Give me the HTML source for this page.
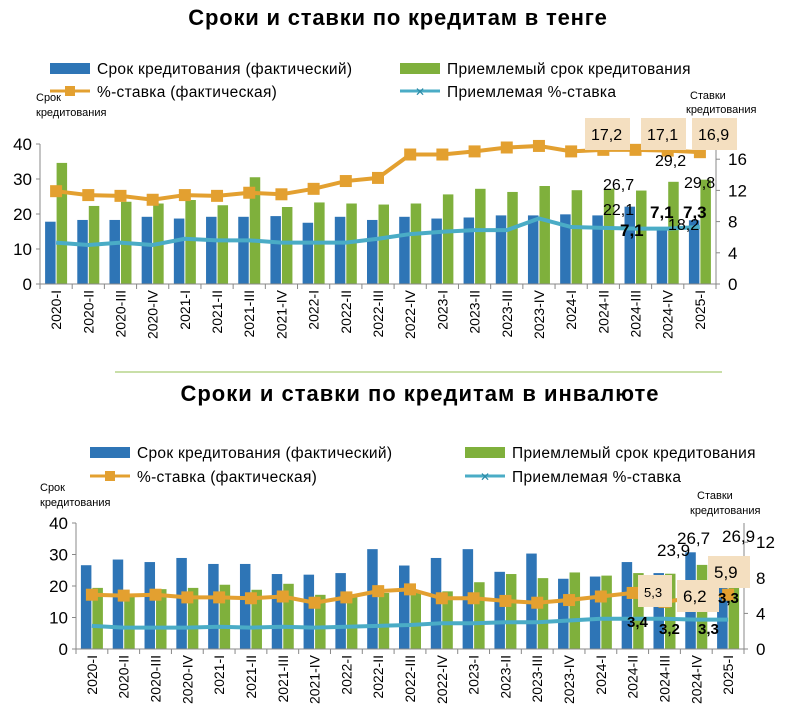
<!DOCTYPE html>
<html><head><meta charset="utf-8"><style>
body{margin:0;background:#fff;width:800px;height:720px;overflow:hidden}
svg{display:block;font-family:"Liberation Sans","DejaVu Sans",sans-serif}
</style></head><body>
<svg id="s" width="800" height="720" xmlns="http://www.w3.org/2000/svg">
<text x="398" y="25" text-anchor="middle" font-size="22" font-weight="bold" letter-spacing="0.8">Сроки и ставки по кредитам в тенге</text>
<text x="420" y="401" text-anchor="middle" font-size="22" font-weight="bold" letter-spacing="1">Сроки и ставки по кредитам в инвалюте</text>
<line x1="115" y1="372" x2="722" y2="372" stroke="#c9dfa8" stroke-width="2"/>
<!-- top legend -->
<rect x="50" y="63" width="40" height="11" fill="#2e75b6"/><text x="97" y="74" font-size="15.5" letter-spacing="0.3">Срок кредитования (фактический)</text>
<rect x="400" y="63" width="40" height="11" fill="#7fb03c"/><text x="447" y="74" font-size="15.5" letter-spacing="0.3">Приемлемый срок кредитования</text>
<line x1="50" y1="91" x2="90" y2="91" stroke="#e3a030" stroke-width="3"/><rect x="65" y="86" width="10" height="10" fill="#e3a030"/><text x="97" y="97" font-size="15.5" letter-spacing="0.3">%-ставка (фактическая)</text>
<line x1="400" y1="91" x2="440" y2="91" stroke="#4aacc6" stroke-width="3"/><text x="420" y="96" font-size="12" text-anchor="middle" fill="#2a8aa6">✕</text><text x="447" y="97" font-size="15.5" letter-spacing="0.3">Приемлемая %-ставка</text>
<text x="36" y="101" font-size="11">Срок</text><text x="36" y="116" font-size="11">кредитования</text>
<text x="690" y="99" font-size="11">Ставки</text><text x="686" y="113" font-size="11">кредитования</text>
<!-- bottom legend -->
<rect x="90" y="447" width="40" height="11" fill="#2e75b6"/><text x="137" y="458" font-size="15.5" letter-spacing="0.3">Срок кредитования (фактический)</text>
<rect x="465" y="447" width="40" height="11" fill="#7fb03c"/><text x="512" y="458" font-size="15.5" letter-spacing="0.3">Приемлемый срок кредитования</text>
<line x1="90" y1="476" x2="130" y2="476" stroke="#e3a030" stroke-width="3"/><rect x="105" y="471" width="10" height="10" fill="#e3a030"/><text x="137" y="482" font-size="15.5" letter-spacing="0.3">%-ставка (фактическая)</text>
<line x1="465" y1="476" x2="505" y2="476" stroke="#4aacc6" stroke-width="3"/><text x="485" y="481" font-size="12" text-anchor="middle" fill="#2a8aa6">✕</text><text x="512" y="482" font-size="15.5" letter-spacing="0.3">Приемлемая %-ставка</text>
<text x="40" y="491" font-size="11">Срок</text><text x="40" y="506" font-size="11">кредитования</text>
<text x="697" y="499" font-size="11">Ставки</text><text x="690" y="514" font-size="11">кредитования</text>
</svg>
<script>
var s=document.getElementById('s'),NS='http://www.w3.org/2000/svg';
function el(t,a,txt){var e=document.createElementNS(NS,t);for(var k in a)e.setAttribute(k,a[k]);if(txt!=null)e.textContent=txt;s.appendChild(e);return e;}
var cats=['2020-I','2020-II','2020-III','2020-IV','2021-I','2021-II','2021-III','2021-IV','2022-I','2022-II','2022-III','2022-IV','2023-I','2023-II','2023-III','2023-IV','2024-I','2024-II','2024-III','2024-IV','2025-I'];
function chart(c){
 var step=(c.R-c.L)/21;
 function cx(i){return c.L+step*(i+.5);}
 function yl(v){return c.y0-v*c.kl;}
 function yr(v){return c.y0-v*c.kr;}
 for(var i=0;i<21;i++){
  el('rect',{x:cx(i)-11,y:yl(c.b[i]),width:10.5,height:c.b[i]*c.kl,fill:'#2e75b6'});
  el('rect',{x:cx(i)+0.5,y:yl(c.g[i]),width:10.5,height:c.g[i]*c.kl,fill:'#7fb03c'});
 }
 el('line',{x1:c.L,y1:c.yt,x2:c.L,y2:c.y0,stroke:'#888'});
 el('line',{x1:c.R,y1:c.yt,x2:c.R,y2:c.y0,stroke:'#888'});
 el('line',{x1:c.L,y1:c.y0,x2:c.R,y2:c.y0,stroke:'#888'});
 c.lt.forEach(function(v){el('text',{x:c.L-8,y:yl(v)+6,'font-size':17,'text-anchor':'end'},v);el('line',{x1:c.L-4,y1:yl(v),x2:c.L,y2:yl(v),stroke:'#888'});});
 c.rt.forEach(function(v){el('text',{x:c.R+12,y:yr(v)+6,'font-size':17},v);el('line',{x1:c.R,y1:yr(v),x2:c.R+4,y2:yr(v),stroke:'#888'});});
 for(i=0;i<=21;i++)el('line',{x1:c.L+step*i,y1:c.y0,x2:c.L+step*i,y2:c.y0+5,stroke:'#888'});
 cats.forEach(function(t,i){var x=cx(i)+5,y=c.y0+6;el('text',{x:x,y:y,'font-size':14,'text-anchor':'end',transform:'rotate(-90 '+x+' '+y+')'},t);});
 var p1=c.o.map(function(v,i){return cx(i)+','+yr(v);}).join(' ');
 el('polyline',{points:p1,fill:'none',stroke:'#e3a030','stroke-width':4});
 c.o.forEach(function(v,i){el('rect',{x:cx(i)-6,y:yr(v)-6,width:12,height:12,fill:'#e3a030'});});
 var p2=c.t.map(function(v,i){return cx(i)+','+yr(v);}).join(' ');
 el('polyline',{points:p2,fill:'none',stroke:'#4aacc6','stroke-width':4});
 c.lab.forEach(function(l){
  if(l.box)el('rect',{x:l.x-6,y:l.y-22,width:l.w,height:32,fill:'#f4dfc0'});
  el('text',{x:l.x,y:l.y,'font-size':l.fs||15,'font-weight':l.b?'bold':'normal'},l.t);
 });
}
chart({L:40,R:716,y0:284,yt:144,kl:3.5,kr:7.8,lt:[0,10,20,30,40],rt:[0,4,8,12,16],
b:[17.8,18.3,18.3,19.2,18.7,19.2,19.2,19.4,17.5,19.2,18.3,19.2,18.7,19,19.6,19.6,19.9,19.6,22.1,16,18.2],
g:[34.6,22.3,23.5,23,24,22.5,30.5,22,23.3,23,22.7,23,25.6,27.2,26.3,28,26.8,27.2,26.7,29.2,29.8],
o:[11.9,11.4,11.3,10.8,11.4,11.3,11.7,11.5,12.2,13.2,13.6,16.6,16.6,17,17.5,17.7,17,17.2,17.2,17.1,16.9],
t:[5.3,5,5.3,5,5.8,5.6,5.6,5.3,5.3,5.3,5.8,6.4,6.7,6.9,6.9,8.4,7.3,7.2,7.1,7.1,7.3],
lab:[{t:'17,2',x:591,y:140,box:1,w:45,fs:16},{t:'17,1',x:647,y:140,box:1,w:45,fs:16},{t:'16,9',x:698,y:140,box:1,w:45,fs:16},
{t:'29,2',x:655,y:166,fs:16},{t:'26,7',x:603,y:190,fs:16},{t:'29,8',x:684,y:188,fs:16},{t:'22,1',x:603,y:215,fs:16},{t:'7,1',x:650,y:218,b:1,fs:17},{t:'7,3',x:683,y:218,b:1,fs:17},{t:'7,1',x:620,y:236,b:1,fs:17},{t:'18,2',x:668,y:230,fs:16}]});
chart({L:76,R:744,y0:649,yt:523,kl:3.15,kr:8.9,lt:[0,10,20,30,40],rt:[0,4,8,12],
b:[26.6,28.4,27.6,28.9,27,27,23.8,23.6,24.1,31.7,26.5,28.9,31.7,24.5,30.3,22.3,23,27.6,24.1,30.7,20],
g:[19.4,17.2,19,19.4,20.4,18.8,20.7,17.2,17,17.8,18,18.3,21.2,23.8,22.5,24.3,23.3,24.1,23.9,26.7,26.9],
o:[6.1,6,6.1,5.8,5.8,5.7,5.9,5.2,5.8,6.5,6.7,5.7,5.7,5.4,5.2,5.5,5.9,6.3,5.3,5.8,6.1],
t:[2.6,2.4,2.4,2.4,2.5,2.4,2.5,2.4,2.5,2.6,2.7,2.9,2.9,3,3,3.2,3.4,3.4,3.4,3.3,3.3],
lab:[{t:'5,3',x:644,y:597,box:1,w:34,fs:13},{t:'6,2',x:683,y:602,box:1,w:42,fs:17},{t:'5,9',x:714,y:578,box:1,w:42,fs:17},
{t:'23,9',x:657,y:556,fs:17},{t:'26,7',x:677,y:544,fs:17},{t:'26,9',x:722,y:542,fs:17},
{t:'3,3',x:718,y:603,b:1,fs:15},{t:'3,4',x:627,y:627,b:1,fs:15},{t:'3,2',x:659,y:634,b:1,fs:15},{t:'3,3',x:698,y:634,b:1,fs:15}]});
</script>
</body></html>
